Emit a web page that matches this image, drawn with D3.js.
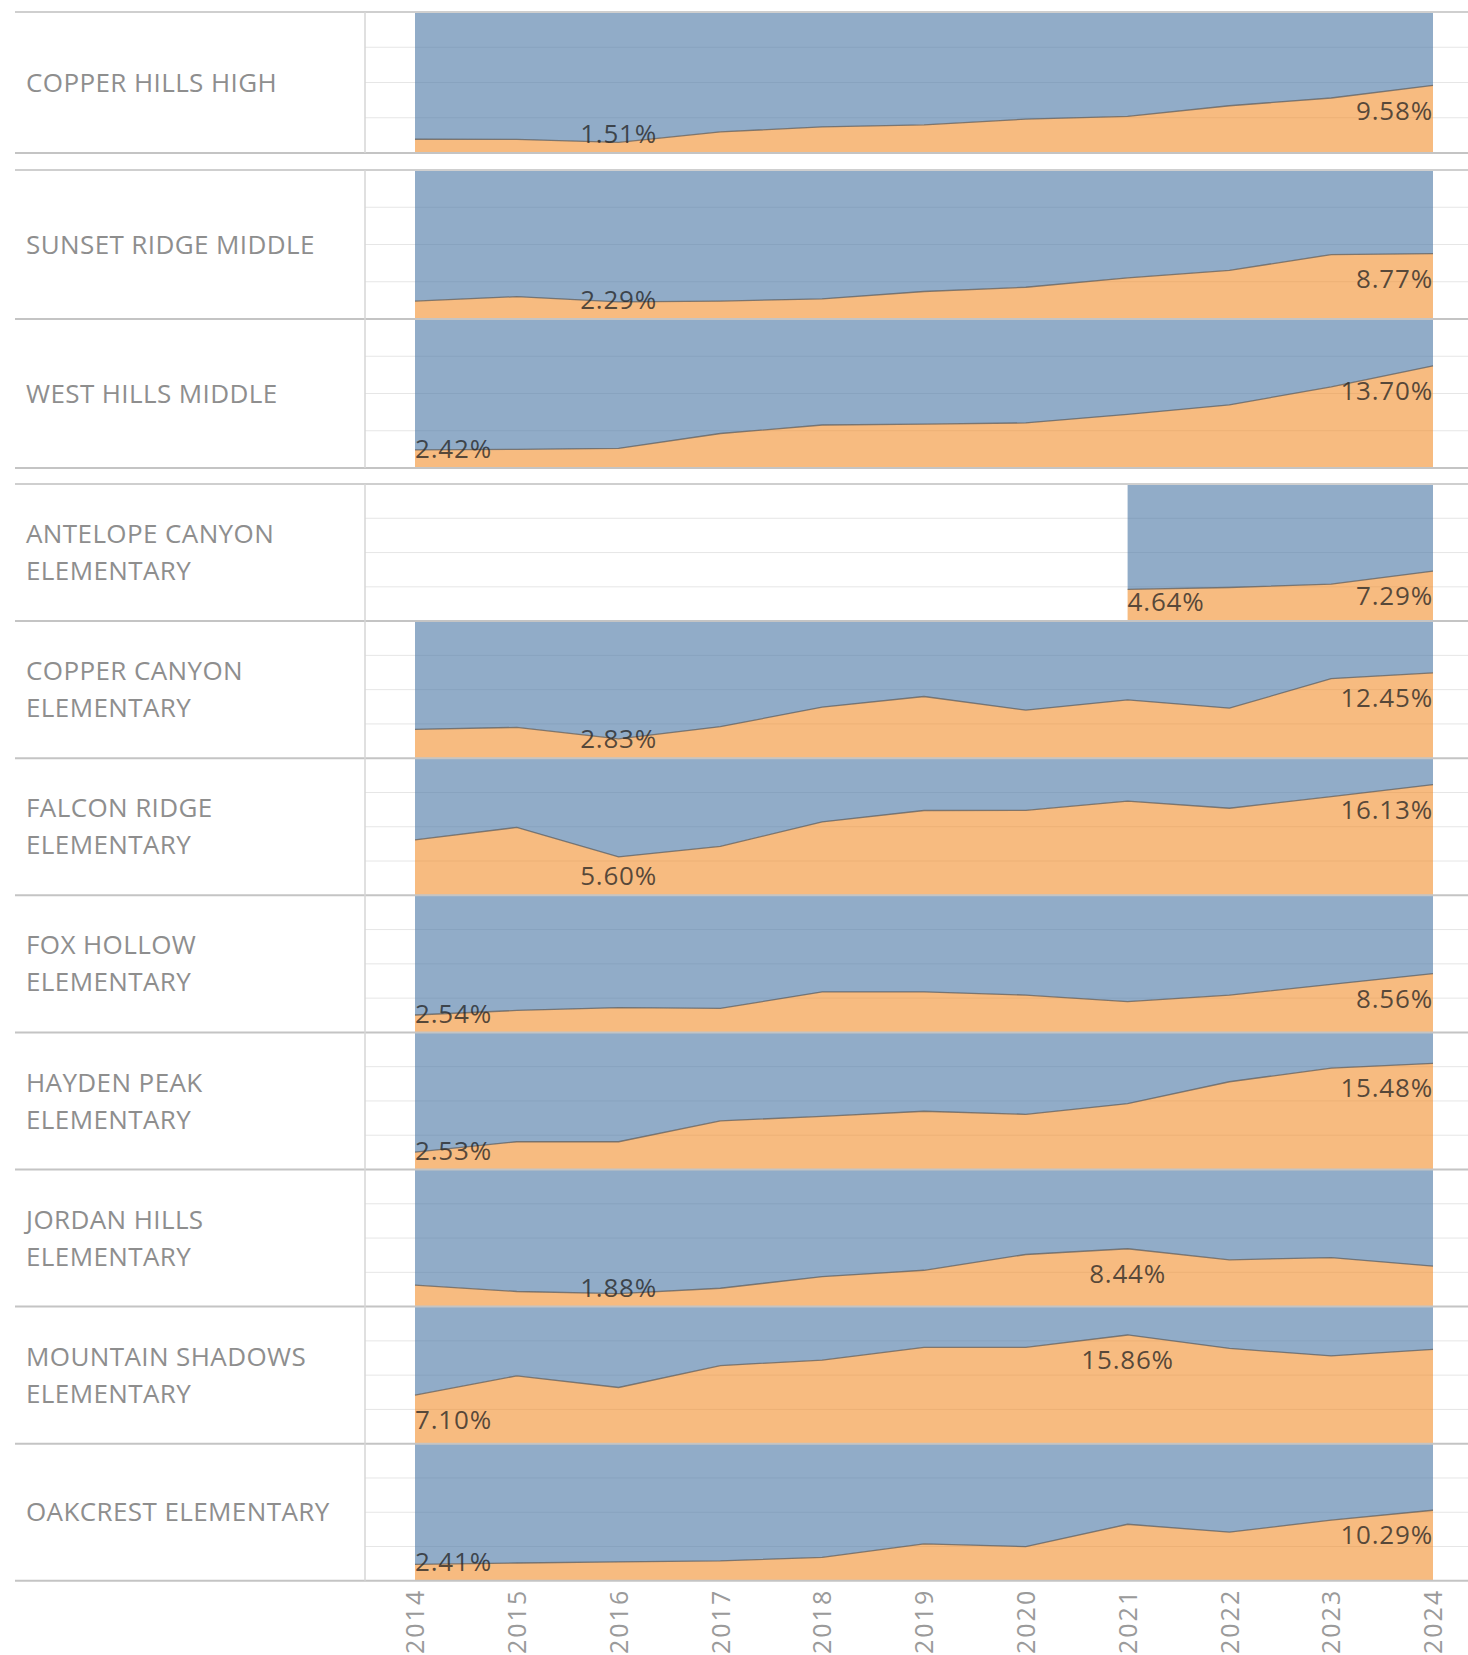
<!DOCTYPE html>
<html>
<head>
<meta charset="utf-8">
<script src="https://d3js.org/d3.v7.min.js"></script>
<style>
    body { margin: 0; background: #fff; }
    svg { display: block; }
    .row-label { font-family: "Open Sans", sans-serif; font-size: 26px; fill: #8e8e8e; letter-spacing: 0.4px; }
    .value-label { font-family: "Open Sans", sans-serif; font-size: 26px; fill: #222; fill-opacity: 0.75; letter-spacing: 0.8px; }
    .axis text { font-family: "Open Sans", sans-serif; font-size: 25px; fill: #9a9a9a; letter-spacing: 2px; }
</style>
</head>
<body>
<svg width="1468" height="1655"></svg>
<script>
// years on the x axis
var years = [2014, 2015, 2016, 2017, 2018, 2019, 2020, 2021, 2022, 2023, 2024];

// school rows, top to bottom ("\n" = line break in the row label)
var schools = [
    "COPPER HILLS HIGH",
    "SUNSET RIDGE MIDDLE",
    "WEST HILLS MIDDLE",
    "ANTELOPE CANYON\nELEMENTARY",
    "COPPER CANYON\nELEMENTARY",
    "FALCON RIDGE\nELEMENTARY",
    "FOX HOLLOW\nELEMENTARY",
    "HAYDEN PEAK\nELEMENTARY",
    "JORDAN HILLS\nELEMENTARY",
    "MOUNTAIN SHADOWS\nELEMENTARY",
    "OAKCREST ELEMENTARY"
];
var levels = ["High", "Middle", "Middle", "Elementary", "Elementary", "Elementary",
    "Elementary", "Elementary", "Elementary", "Elementary", "Elementary"];

// share per year (orange part), null = no data
var copperHillsHigh   = [0.0195, 0.0192, 0.0151, 0.0300, 0.0370, 0.0400, 0.0480, 0.0520, 0.0670, 0.0780, 0.0958];
var sunsetRidge       = [0.0240, 0.0300, 0.0229, 0.0240, 0.0270, 0.0369, 0.0426, 0.0553, 0.0653, 0.0865, 0.0877];
var westHills         = [0.0242, 0.0250, 0.0263, 0.0463, 0.0577, 0.0590, 0.0605, 0.0719, 0.0847, 0.1089, 0.1370];
var antelopeCanyon    = [null, null, null, null, null, null, null, 0.0464, 0.0490, 0.0540, 0.0729];
var copperCanyon      = [0.0420, 0.0450, 0.0283, 0.0460, 0.0745, 0.0900, 0.0700, 0.0850, 0.0730, 0.1160, 0.1245];
var falconRidge       = [0.0810, 0.0990, 0.0560, 0.0715, 0.1070, 0.1237, 0.1240, 0.1375, 0.1270, 0.1440, 0.1613];
var foxHollow         = [0.0254, 0.0320, 0.0360, 0.0350, 0.0590, 0.0590, 0.0545, 0.0450, 0.0545, 0.0700, 0.0856];
var haydenPeak        = [0.0253, 0.0405, 0.0405, 0.0710, 0.0775, 0.0850, 0.0805, 0.0960, 0.1280, 0.1480, 0.1548];
var jordanHills       = [0.0314, 0.0220, 0.0188, 0.0268, 0.0437, 0.0530, 0.0760, 0.0844, 0.0683, 0.0714, 0.0590];
var mountainShadows   = [0.0710, 0.0990, 0.0820, 0.1140, 0.1220, 0.1406, 0.1406, 0.1586, 0.1390, 0.1280, 0.1375];
var oakcrest          = [0.0241, 0.0260, 0.0275, 0.0290, 0.0343, 0.0540, 0.0498, 0.0825, 0.0710, 0.0886, 0.1029];

var rates = [copperHillsHigh, sunsetRidge, westHills, antelopeCanyon, copperCanyon, falconRidge,
    foxHollow, haydenPeak, jordanHills, mountainShadows, oakcrest];

var gridValues = [0.05, 0.10, 0.15];

/* layout */
var svg = d3.select("svg"),
    width = +svg.attr("width"),
    lineLeft = 15,
    dividerX = 365,
    labelX = 26;

// each school level sits in its own block
var groupTop = {High: 12, Middle: 170, Elementary: 484},
    paneHeight = {High: 141, Middle: 149, Elementary: 137.1};

var x = d3.scaleLinear().domain([years[0], years[years.length - 1]]).range([415, 1433]);

var orange = "#f28e2b", blue = "#4e79a7";

// work out pane tops
var panes = [], bottom = 0;
schools.forEach(function (name, i) {
    var top = (i === 0 || levels[i] !== levels[i - 1]) ? groupTop[levels[i]] : bottom;
    bottom = top + paneHeight[levels[i]];
    panes.push({
        name: name,
        level: levels[i],
        top: top,
        bottom: bottom,
        values: years.map(function (yr, j) { return {year: yr, v: rates[i][j]}; })
    });
});

var gridG = svg.append("g"),
    areaG = svg.append("g"),
    ruleG = svg.append("g");

panes.forEach(function (p) {
    var y = d3.scaleLinear().domain([0, 0.2]).range([p.bottom, p.top]).clamp(true);

    // light gridlines (seen through the areas)
    gridG.selectAll(null)
        .data(gridValues)
        .enter().append("line")
        .attr("x1", dividerX).attr("x2", width)
        .attr("y1", function (d) { return y(d); })
        .attr("y2", function (d) { return y(d); })
        .attr("stroke", "#e6e6e6")
        .attr("stroke-width", 1);

    var defined = function (d) { return d.v != null; };

    var lower = d3.area().defined(defined)
        .x(function (d) { return x(d.year); })
        .y0(y(0))
        .y1(function (d) { return y(d.v); });

    // the rest of 100% stacked on top, clipped by the 0-20% axis
    var upper = d3.area().defined(defined)
        .x(function (d) { return x(d.year); })
        .y0(function (d) { return y(d.v); })
        .y1(function (d) { return y(1); });

    var edge = d3.line().defined(defined)
        .x(function (d) { return x(d.year); })
        .y(function (d) { return y(d.v); });

    var g = areaG.append("g");

    g.append("path").attr("d", upper(p.values))
        .attr("fill", blue).attr("fill-opacity", 0.62);
    g.append("path").attr("d", lower(p.values))
        .attr("fill", orange).attr("fill-opacity", 0.6);
    g.append("path").attr("d", edge(p.values))
        .attr("fill", "none")
        .attr("stroke", "#555")
        .attr("stroke-opacity", 0.7)
        .attr("stroke-width", 1.3);

    // min and max labels
    var pts = p.values.filter(defined);
    var lo = d3.least(pts, function (d) { return d.v; }),
        hi = d3.greatest(pts, function (d) { return d.v; });
    var first = pts[0].year, last = pts[pts.length - 1].year;

    g.selectAll(".value-label")
        .data([lo, hi])
        .enter().append("text")
        .attr("class", "value-label")
        .attr("x", function (d) { return x(d.year); })
        .attr("y", function (d) { return Math.min(y(d.v) + 25, p.bottom - 19); })
        .attr("dy", "0.35em")
        .attr("text-anchor", function (d) {
            return d.year === first ? "start" : (d.year === last ? "end" : "middle");
        })
        .text(function (d) { return d3.format(".2%")(d.v); });

    // row label
    var lines = p.name.split("\n");
    var mid = (p.top + p.bottom) / 2;
    svg.append("text")
        .attr("class", "row-label")
        .attr("x", labelX)
        .selectAll("tspan")
        .data(lines)
        .enter().append("tspan")
        .attr("x", labelX)
        .attr("y", function (d, k) { return mid + (k - (lines.length - 1) / 2) * 37; })
        .attr("dy", "0.35em")
        .text(function (d) { return d; });

    // pane bottom rule
    ruleG.append("line")
        .attr("x1", lineLeft).attr("x2", width)
        .attr("y1", p.bottom).attr("y2", p.bottom)
        .attr("stroke", "#c4c4c4").attr("stroke-width", 2);
});

// group top rules and the divider between labels and plot
d3.groups(panes, function (d) { return d.level; }).forEach(function (grp) {
    var ps = grp[1];
    ruleG.append("line")
        .attr("x1", lineLeft).attr("x2", width)
        .attr("y1", ps[0].top).attr("y2", ps[0].top)
        .attr("stroke", "#cfcfcf").attr("stroke-width", 2);
    ruleG.append("line")
        .attr("x1", dividerX).attr("x2", dividerX)
        .attr("y1", ps[0].top).attr("y2", ps[ps.length - 1].bottom)
        .attr("stroke", "#d6d6d6").attr("stroke-width", 1.5);
});

// year axis along the bottom
var axisY = panes[panes.length - 1].bottom;
svg.append("g")
    .attr("class", "axis")
    .attr("transform", "translate(0," + axisY + ")")
    .call(d3.axisBottom(x).tickValues(years).tickFormat(d3.format("d")).tickSize(0))
    .call(function (a) { a.select(".domain").remove(); })
    .selectAll("text")
    .attr("transform", "rotate(-90)")
    .attr("x", -8)
    .attr("y", 0)
    .attr("dy", "0.35em")
    .style("text-anchor", "end");
</script>
</body>
</html>
